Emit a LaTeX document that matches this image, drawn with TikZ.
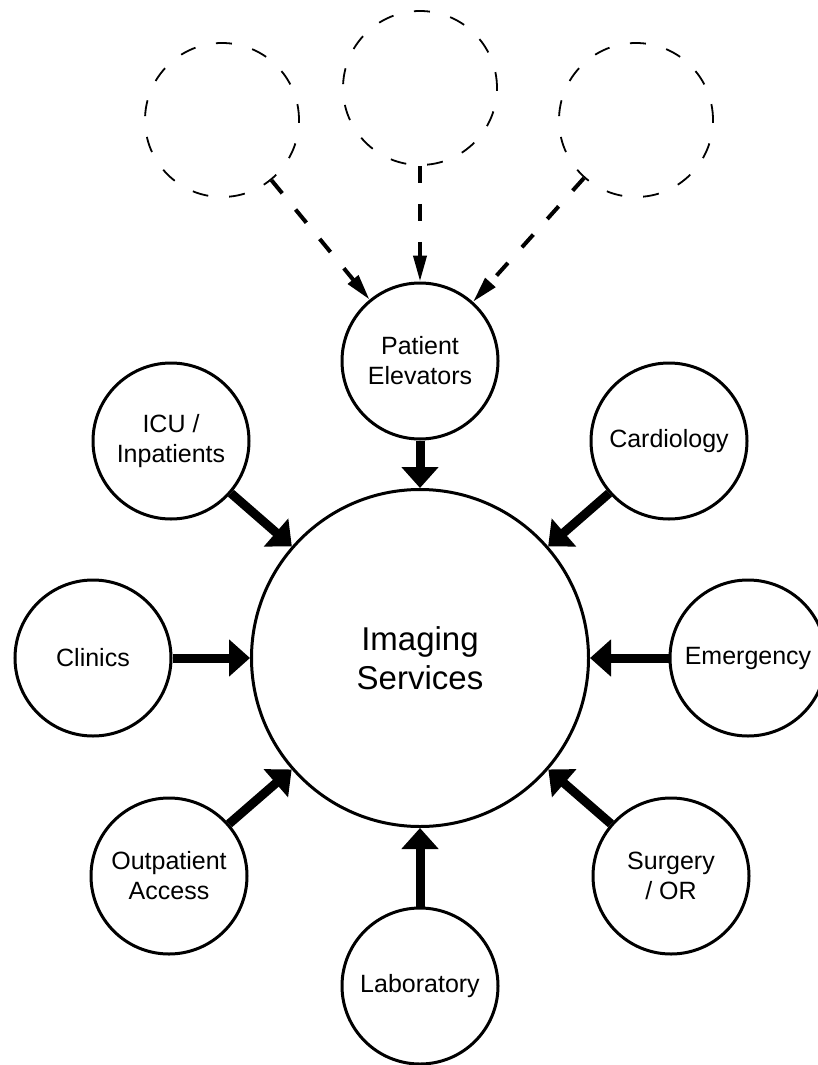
\documentclass[tikz,border=0pt]{standalone}
\usepackage{fontspec}
\setmainfont{Liberation Sans}
\usetikzlibrary{arrows.meta}

\tikzset{
  unit/.style={circle, draw=black, line width=3pt, minimum size=156pt,
    inner sep=0pt, align=center, font=\fontsize{25}{30}\selectfont},
  hub/.style={circle, draw=black, line width=3pt, minimum size=337pt,
    inner sep=0pt, align=center, font=\fontsize{33}{39}\selectfont},
  ghost/.style={circle, draw=black, line width=1.8pt, minimum size=154pt,
    inner sep=0pt, dash pattern=on 16pt off 21pt},
  feed/.style={line width=9pt, -{Triangle[length=21pt,width=36pt]}},
  maybe/.style={line width=4pt, dash pattern=on 17pt off 21pt,
    -{Triangle[length=26pt,width=13pt]}}
}

\begin{document}
\begin{tikzpicture}[x=1pt, y=-1pt]
  \useasboundingbox (0,0) rectangle (818,1065);

  % central department
  \node[hub] (ctr) at (420,658) {Imaging\\Services};

  % feeding units around it
  \node[unit] (elev) at (420,361) {Patient\\Elevators};
  \node[unit] (icu)  at (171,441) {ICU /\\Inpatients};
  \node[unit] (card) at (669,441) {Cardiology};
  \node[unit] (clin) at (93,658)  {Clinics};
  \node[unit] (emer) at (748,658) {Emergency};
  \node[unit] (outp) at (169,876) {Outpatient\\Access};
  \node[unit] (surg) at (671,876) {Surgery\\/ OR};
  \node[unit] (lab)  at (420,986) {Laboratory};

  % unnamed sources above the elevators
  \node[ghost] (g1) at (222,120) {};
  \node[ghost] (g2) at (420,88)  {};
  \node[ghost] (g3) at (636,120) {};

  % flows into imaging
  \foreach \n in {elev,icu,card,clin,emer,outp,surg,lab}
    \draw[feed] (\n) -- (ctr);

  % possible flows into the elevators
  \foreach \n in {g1,g2,g3}
    \draw[maybe] (\n) -- (elev);
\end{tikzpicture}
\end{document}
